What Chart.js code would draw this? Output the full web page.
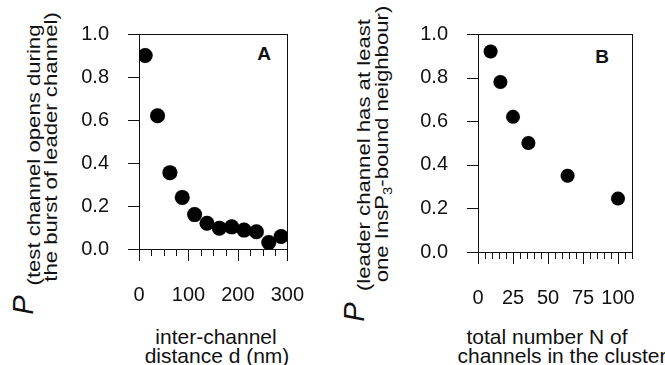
<!DOCTYPE html>
<html><head><meta charset="utf-8">
<script src="https://cdn.jsdelivr.net/npm/chart.js@4/dist/chart.umd.min.js"></script>
<style>
html,body{margin:0;padding:0;background:#fff;overflow:hidden;width:665px;height:365px;position:relative;}
canvas{position:absolute;display:block;z-index:5;background:transparent;}
.t{position:absolute;z-index:1;font-family:"Liberation Sans",Arial,Helvetica,sans-serif;color:#111;white-space:nowrap;line-height:1;}
.rot{transform:translate(-50%,-50%) rotate(-90deg);}
.ytl{font-size:18px;transform:translate(-50%,-50%) rotate(-90deg) scaleX(1.23);}
.xt{font-size:21px;line-height:20px;transform:translateX(-50%);}
.P{font-size:29px;font-style:italic;}
.lab{font-size:19px;font-weight:bold;transform:translate(-50%,-50%);}
sub{font-size:12px;vertical-align:-4px;line-height:0;}
</style></head><body>
<div class="t P rot" style="left:23px;top:305px">P</div>
<div class="t ytl" style="left:34px;top:155px">(test channel opens during</div>
<div class="t ytl" style="left:51px;top:147px">the burst of leader channel)</div>
<div class="t xt" style="left:216px;top:327px">inter-channel</div>
<div class="t xt" style="left:217px;top:346px">distance d (nm)</div>
<div class="t lab" style="left:264px;top:53px">A</div>

<div class="t P rot" style="left:354px;top:312px">P</div>
<div class="t ytl" style="left:364px;top:155px">(leader channel has at least</div>
<div class="t ytl" style="left:382px;top:144px">one InsP<sub>3</sub>-bound neighbour)</div>
<div class="t xt" style="left:547px;top:327px">total number N of</div>
<div class="t xt" style="left:562px;top:346px">channels in the cluster</div>
<div class="t lab" style="left:602px;top:56px">B</div>

<canvas id="ca" width="330" height="305" style="left:0;top:0;width:330px;height:305px"></canvas>
<canvas id="cb" width="325" height="308" style="left:340px;top:0;width:325px;height:308px"></canvas>

<script>
// ---- data ----
const distanceA = [12.5, 37.5, 62.5, 87.5, 112.5, 137.5, 162.5, 187.5, 212.5, 237.5, 262.5, 287.5];
const probA     = [0.90, 0.62, 0.355, 0.24, 0.16, 0.12, 0.097, 0.103, 0.088, 0.08, 0.03, 0.058];
const clusterN  = [9, 16, 25, 36, 64, 100];
const probB     = [0.92, 0.78, 0.62, 0.50, 0.35, 0.245];
const xLabelsA  = [0, 100, 200, 300];
const xLabelsB  = [0, 25, 50, 75, 100];

const FONT = {family: '"Liberation Sans", Arial, sans-serif', size: 20};
const INK = '#111111';

// axis frame and tick marks, placed with the chart's own scales
function makeAxes(majors) {
  return {
    id: 'axesBox',
    beforeDatasetsDraw(chart) {
      const ctx = chart.ctx, a = chart.chartArea;
      const xs = chart.scales.x, ys = chart.scales.y;
      const L = Math.round(a.left), T = Math.round(a.top);
      const R = Math.round(a.right), B = Math.round(a.bottom);
      ctx.save();
      ctx.fillStyle = INK;
      ctx.fillRect(L, T, R - L + 1, 1);      // top
      ctx.fillRect(L, B, R - L + 1, 1);      // bottom axis
      ctx.fillRect(L, T, 1, B - T + 1);      // left axis
      ctx.fillRect(R, T, 1, B - T + 1);      // right
      xs.ticks.forEach(t => {
        const px = Math.round(xs.getPixelForValue(t.value));
        const len = majors.includes(t.value) ? 12 : 7;
        ctx.fillRect(px, B, 1, len);
      });
      ys.ticks.forEach(t => {
        const py = Math.round(ys.getPixelForValue(t.value));
        ctx.fillRect(L - 11, py, 11, 1);
      });
      ctx.restore();
    }
  };
}

function makeChart(id, xs, ys, xmax, step, majors, pad, radius) {
  return new Chart(document.getElementById(id), {
    type: 'scatter',
    data: {datasets: [{
      data: xs.map((x, i) => ({x, y: ys[i]})),
      backgroundColor: '#000', pointRadius: radius
    }]},
    plugins: [makeAxes(majors)],
    options: {
      responsive: false, animation: false, events: [],
      layout: {padding: pad},
      plugins: {legend: {display: false}, tooltip: {enabled: false}},
      scales: {
        x: {
          type: 'linear', min: 0, max: xmax,
          afterFit: s => { s.height = 56; },
          grid: {display: false},
          border: {display: false},
          ticks: {
            stepSize: step, autoSkip: false, maxRotation: 0, padding: 26,
            color: INK, font: FONT,
            callback: v => majors.includes(v) ? String(v) : ''
          }
        },
        y: {
          type: 'linear', min: 0, max: 1,
          afterFit: s => { s.width = 60; },
          grid: {display: false},
          border: {display: false},
          ticks: {stepSize: 0.2, padding: 22, color: INK, font: FONT, callback: v => Number(v).toFixed(1)}
        }
      }
    }
  });
}

makeChart('ca', distanceA, probA, 300, 25, xLabelsA, {left: 79, right: 36, top: 25, bottom: 0}, 7.5);
makeChart('cb', clusterN, probB, 110, 5, xLabelsB, {left: 78, right: 33, top: 28, bottom: 0}, 7);
</script>
</body></html>
